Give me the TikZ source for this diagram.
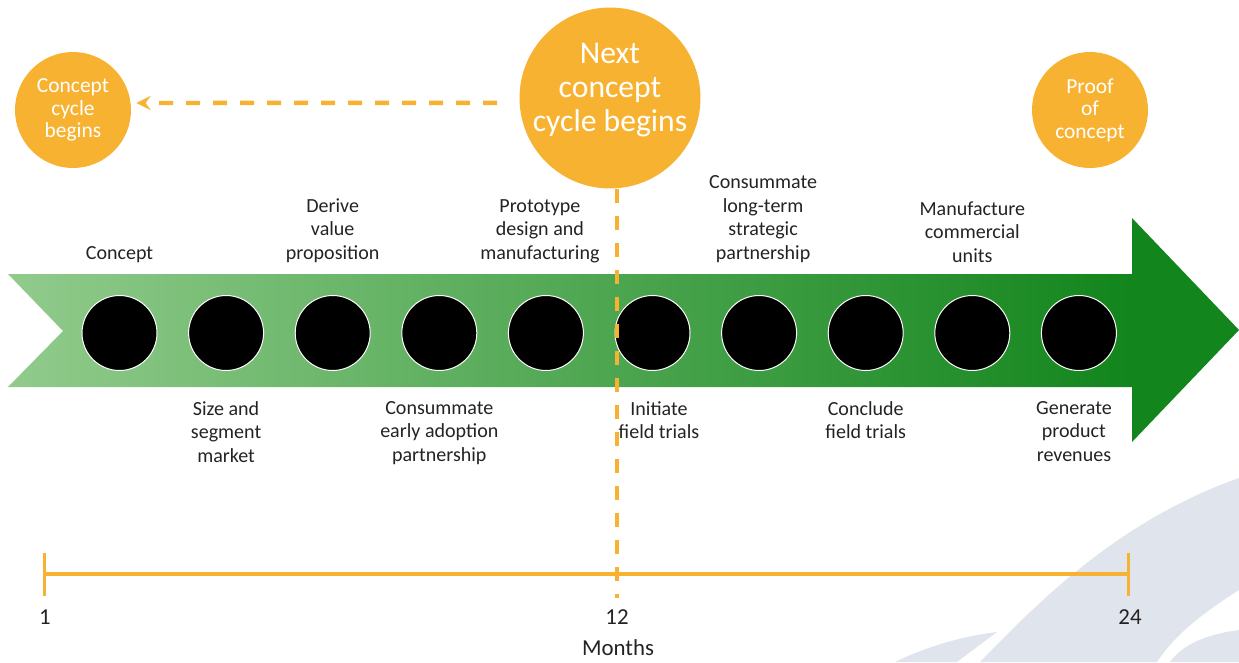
\documentclass[tikz,border=0pt]{standalone}
\usepackage{fontspec}
\setmainfont{Carlito}
\usetikzlibrary{positioning}

\definecolor{orng}{RGB}{248,178,50}
\definecolor{grnL}{RGB}{145,203,140}
\definecolor{grnD}{RGB}{18,133,28}
\definecolor{wmark}{RGB}{224,228,237}
\definecolor{txt}{RGB}{35,35,35}

\tikzset{
  dot/.style={circle,fill=black,draw=white,line width=0.02cm,minimum size=1.5cm,inner sep=0pt},
  ocirc/.style={circle,fill=orng,text=white,align=center,inner sep=0pt},
  lbl/.style={align=center,text=txt,font=\fontsize{11.4}{13.4}\selectfont,inner sep=0pt},
  axlbl/.style={text=txt,font=\fontsize{13}{15}\selectfont,inner sep=0pt},
  dsh/.style={orng,line width=0.09cm,dash pattern=on 0.28cm off 0.26cm},
}

\begin{document}
\begin{tikzpicture}[x=0.02cm,y=-0.02cm]
  \useasboundingbox (0,0) rectangle (1239,662);
  % faint swooshes in the corner
  \fill[wmark] (980,662) .. controls (1040,600) and (1120,520) .. (1239,478) -- (1239,590) .. controls (1200,615) and (1175,635) .. (1157,662) -- cycle;
  \fill[wmark] (1170,662) .. controls (1180,648) and (1200,635) .. (1239,630) -- (1239,662) -- cycle;
  \fill[wmark] (895,662) .. controls (930,645) and (965,636) .. (997,632) -- (957,662) -- cycle;
  % green arrow
  \shade[left color=grnL,right color=grnD] (8,274) -- (1133,274) -- (1133,387) -- (8,387) -- (63,331) -- cycle;
  \fill[grnD] (1132,218) -- (1239,330) -- (1132,442) -- cycle;
  % milestones
  \foreach \i in {1,...,10}
    \node[dot] (c\i) at ({119.5+106.6*(\i-1)},333) {};
  \node[lbl,above=0.64cm of c1] (l1) {Concept};
  \node[lbl,above=0.64cm of c3] (l3) {Derive\\value\\proposition};
  \node[lbl,above=0.64cm of c5,xshift=-0.12cm] (l5) {Prototype\\design and\\manufacturing};
  \node[lbl,above=0.64cm of c7,xshift=0.08cm] (l7) {Consummate\\long-term\\strategic\\partnership};
  \node[lbl,above=0.64cm of c9] (l9) {Manufacture\\commercial\\units};
  \node[lbl,below=0.6cm of c2] (l2) {Size and\\segment\\market};
  \node[lbl,below=0.6cm of c4] (l4) {Consummate\\early adoption\\partnership};
  \node[lbl,below=0.6cm of c6,xshift=0.13cm] (l6) {Initiate\\field trials};
  \node[lbl,below=0.6cm of c8] (l8) {Conclude\\field trials};
  \node[lbl,below=0.6cm of c10,xshift=-0.1cm] (l10) {Generate\\product\\revenues};
  % cycle circles
  \node[ocirc,minimum size=2.32cm,font=\fontsize{12.2}{12.8}\selectfont] (start) at (73,110) {Concept\\cycle\\begins};
  \node[ocirc,minimum size=3.62cm] (next) at (610,98) {};
  \node[text=white,align=center,inner sep=0pt,font=\fontsize{18}{19.5}\selectfont] (nexttxt) at (610,90) {Next\\concept\\cycle begins};
  \node[ocirc,minimum size=2.32cm,font=\fontsize{12.2}{12.8}\selectfont] (proof) at (1090,110) {Proof\\of\\concept};
  \draw[dsh,-stealth,shorten <=0.44cm,shorten >=0.1cm] ([yshift=-0.1cm]next.west) -- ([yshift=0.14cm]start.east);
  % month axis
  \coordinate (m12) at (617,598);
  \coordinate (t1) at (44,574);
  \coordinate (t24) at (1128,574);
  \draw[dsh,line width=0.065cm] (next.south -| m12) -- (m12);
  \draw[orng,line width=0.08cm] (t1) -- (t24);
  \draw[orng,line width=0.06cm] ([yshift=0.42cm]t1) -- ([yshift=-0.44cm]t1);
  \draw[orng,line width=0.06cm] ([yshift=0.42cm]t24) -- ([yshift=-0.44cm]t24);
  \node[axlbl] (n1) at (45,617) {1};
  \node[axlbl] (n12) at (617,617) {12};
  \node[axlbl] (n24) at (1130,617) {24};
  \node[axlbl] (months) at (618,648) {Months};
\end{tikzpicture}
\end{document}
